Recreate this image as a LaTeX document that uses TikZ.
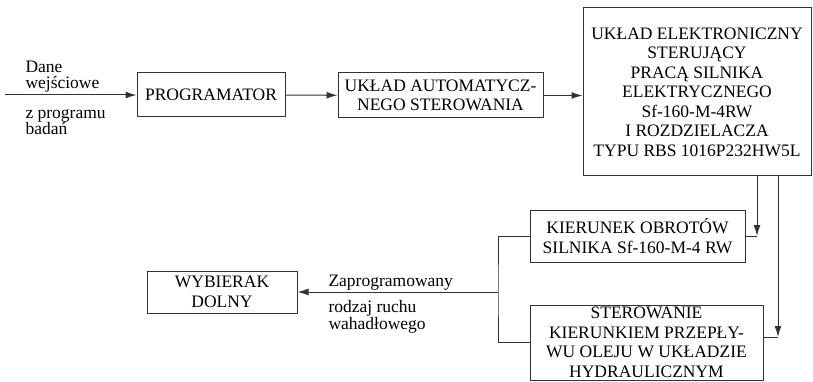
\documentclass[tikz,border=0pt]{standalone}
\usepackage{fontspec}
\setmainfont{Liberation Serif}
\usetikzlibrary{arrows.meta}

\begin{document}
\begin{tikzpicture}[x=1pt, y=1pt, line width=1pt, draw=black!80,
  blk/.style={draw, align=center, inner sep=0pt,
    font=\rmfamily\fontsize{17.5}{19.5}\selectfont},
  lbl/.style={align=left, inner sep=0pt, font=\rmfamily\fontsize{17.5}{16.5}\selectfont},
  arr/.style={-{Latex[length=11pt,width=7pt]}}]
\useasboundingbox (0,0) rectangle (813,-382);

\node[blk, minimum width=148, minimum height=44] (prog) at (211,-95) {PROGRAMATOR};
\node[blk, minimum width=205, minimum height=45] (auto) at (440.5,-95.5) {UKŁAD AUTOMATYCZ-\\NEGO STEROWANIA};
\node[blk, minimum width=228, minimum height=168] (el) at (697,-92) {UKŁAD ELEKTRONICZNY\\STERUJĄCY\\PRACĄ SILNIKA\\ELEKTRYCZNEGO\\Sf-160-M-4RW\\I ROZDZIELACZA\\TYPU RBS 1016P232HW5L};
\node[blk, minimum width=215, minimum height=52] (kier) at (637.5,-236) {KIERUNEK OBROTÓW\\SILNIKA Sf-160-M-4 RW};
\node[blk, minimum width=233, minimum height=75] (ster) at (646.5,-342.5) {STEROWANIE\\KIERUNKIEM PRZEPŁY-\\WU OLEJU W UKŁADZIE\\HYDRAULICZNYM};
\node[blk, minimum width=150, minimum height=42] (wyb) at (222,-292) {WYBIERAK\\DOLNY};

\coordinate (in) at (5,-95);
\node[lbl, anchor=south west] (dane) at (25,-93) {Dane\\wejściowe};
\node[lbl, anchor=north west] (zprog) at (25,-109) {z programu\\badań};

\draw[arr] (in) -- (prog);
\draw[arr] (prog) -- (auto);
\draw[arr] (auto) -- (auto -| el.west);

% wyjscia ukladu elektronicznego
\coordinate (kcor) at (757,-236);
\coordinate (scor) at (778,-337);
\draw[arr] (el.south -| kcor) -- (kcor);
\draw[] (kier.east) -- (kcor);
\draw[arr] (el.south -| scor) -- (scor);
\draw[] (scor -| ster.east) -- (scor);

% polaczenie do wybieraka
\coordinate (bx) at (498,-292);
\draw[] (kier.west) -| (bx) |- (ster.west);
\draw[arr] (bx) -- (wyb.east);
\node[lbl, anchor=south west] (zapr) at (328,-291) {Zaprogramowany};
\node[lbl, anchor=north west] (rodz) at (328,-300) {rodzaj ruchu\\wahadłowego};

\end{tikzpicture}
\end{document}
